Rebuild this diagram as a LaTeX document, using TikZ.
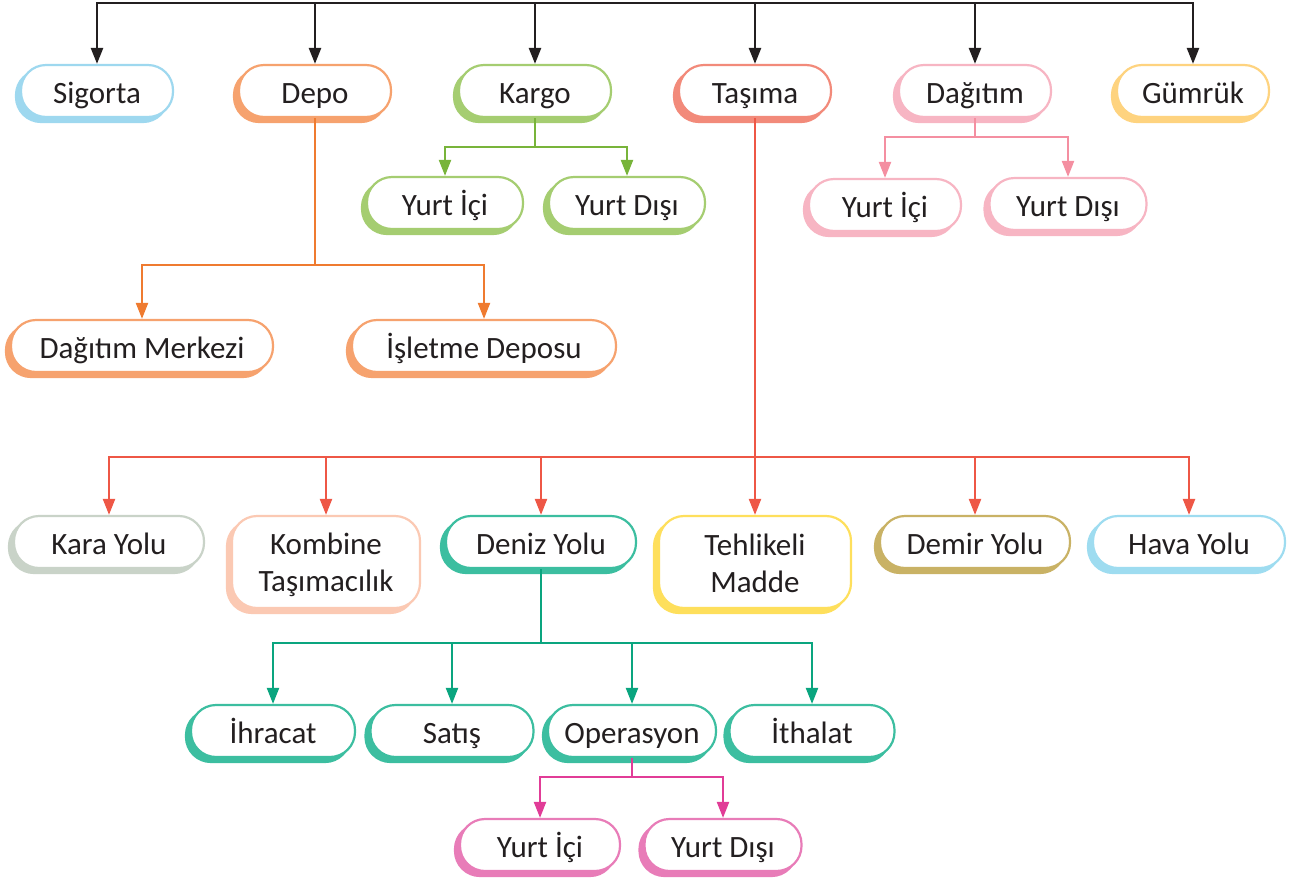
\documentclass[tikz,border=0pt]{standalone}
\usepackage{fontspec}
\setmainfont{Carlito}
\usetikzlibrary{arrows.meta,shadows}
\definecolor{txt}{HTML}{231F20}
\definecolor{blk}{HTML}{231F20}
% connector colours
\definecolor{lorange}{HTML}{EF7B30}
\definecolor{lgreen}{HTML}{78B43A}
\definecolor{lpink}{HTML}{F48FA1}
\definecolor{lred}{HTML}{EE5746}
\definecolor{lteal}{HTML}{0AA57F}
\definecolor{lmag}{HTML}{E13C97}
% box colours
\definecolor{cblue}{HTML}{9ED8EF}
\definecolor{corange}{HTML}{F6A26E}
\definecolor{cgreen}{HTML}{A5CD71}
\definecolor{csalmon}{HTML}{F28A7A}
\definecolor{cpink}{HTML}{F7B5C3}
\definecolor{cyellow}{HTML}{FED37F}
\definecolor{cgray}{HTML}{C9D3C8}
\definecolor{cpeach}{HTML}{FBC9B3}
\definecolor{cteal}{HTML}{3CBEA0}
\definecolor{cyell2}{HTML}{FEDF5C}
\definecolor{ckhaki}{HTML}{C9B265}
\definecolor{cblue2}{HTML}{9EDCF0}
\definecolor{cmag}{HTML}{E87CB8}
\newcommand{\topstrut}{\rule{0pt}{28pt}}
\newcommand{\botstrut}{\rule[-4pt]{0pt}{4pt}}
\begin{document}
\begin{tikzpicture}[x=1pt,y=-1pt,
  box/.style={draw=#1, fill=white, line width=2.2pt, rounded corners=25pt,
     general shadow={fill=#1, draw=#1, shadow xshift=-5pt, shadow yshift=-5pt},
     font=\fontsize{31}{37}\selectfont, text=txt, align=center,
     minimum height=52pt, inner sep=0pt},
  one/.style={text height=28pt, text depth=4pt},
  w/.style={minimum width=#1},
  tall/.style={minimum height=92pt},
  wire/.style={line width=2.2pt, draw=#1},
  conn/.style={line width=2.2pt, draw=#1, -{Triangle[length=16pt,width=12pt]}},
]
\useasboundingbox (0,0) rectangle (1292,879);

% ---- Row 1
\node[box=cblue,   w=152pt, one] (sig)   at (97,91)   {Sigorta};
\node[box=corange, w=152pt, one] (depo)  at (315,91)  {Depo};
\node[box=cgreen,  w=152pt, one] (kargo) at (535,91)  {Kargo};
\node[box=csalmon, w=152pt, one] (tas)   at (755,91)  {Taşıma};
\node[box=cpink,   w=152pt, one] (dag)   at (975,91)  {Dağıtım};
\node[box=cyellow, w=152pt, one] (gum)   at (1193,91) {Gümrük};

% ---- Kargo children
\node[box=cgreen, w=156pt, one] (ki) at (445,203) {Yurt İçi};
\node[box=cgreen, w=156pt, one] (kd) at (627,203) {Yurt Dışı};

% ---- Dağıtım children
\node[box=cpink, w=152pt, one] (gi) at (885,205) {Yurt İçi};
\node[box=cpink, w=157pt, one] (gd) at (1068,204) {Yurt Dışı};

% ---- Depo children
\node[box=corange, w=262pt, one] (dm) at (142,346) {Dağıtım Merkezi};
\node[box=corange, w=264pt, one] (id) at (484,346) {İşletme Deposu};

% ---- Taşıma children
\node[box=cgray,  w=190pt, one] (kara)  at (109,542)   {Kara Yolu};
\node[box=cpeach, w=188pt, tall] (komb) at (326,562) {\topstrut Kombine\\Taşımacılık\botstrut};
\node[box=cteal,  w=190pt, one] (deniz) at (541,542)   {Deniz Yolu};
\node[box=cyell2, w=192pt, tall] (teh) at (755,562) {\topstrut Tehlikeli\\Madde\botstrut};
\node[box=ckhaki, w=190pt, one] (demir) at (975,542)   {Demir Yolu};
\node[box=cblue2, w=192pt, one] (hava)  at (1189,542)  {Hava Yolu};

% ---- Deniz Yolu children
\node[box=cteal, w=164pt, one] (ihr) at (273,731) {İhracat};
\node[box=cteal, w=163pt, one] (sat) at (452,731) {Satış};
\node[box=cteal, w=168pt, one] (ope) at (632,731) {Operasyon};
\node[box=cteal, w=165pt, one] (ith) at (812,731) {İthalat};

% ---- Operasyon children
\node[box=cmag, w=160pt, one] (oi) at (540,845) {Yurt İçi};
\node[box=cmag, w=157pt, one] (od) at (723,845) {Yurt Dışı};

% ---- bus coordinates
\coordinate (top)  at (315,3);
\coordinate (topr) at (975,3);
\coordinate (kbus) at (535,147);
\coordinate (gbus) at (975,137);
\coordinate (dbus) at (315,265);
\coordinate (tbus) at (755,457);
\coordinate (nbus) at (541,643);
\coordinate (obus) at (632,777);

% ---- top level connectors
\draw[wire=blk, line width=2.5pt] (top) -- (topr);
\draw[conn=blk, line width=2.5pt] (top) -| (sig.north);
\draw[conn=blk, line width=2.5pt] (top) -- (depo.north);
\draw[conn=blk, line width=2.5pt] (kargo.north |- top) -- (kargo.north);
\draw[conn=blk, line width=2.5pt] (tas.north |- top) -- (tas.north);
\draw[conn=blk, line width=2.5pt] (topr) -- (dag.north);
\draw[conn=blk, line width=2.5pt] (topr) -| (gum.north);

% ---- Kargo
\draw[wire=lgreen] (kargo.south) -- (kbus);
\draw[conn=lgreen] (kbus) -| (ki.north);
\draw[conn=lgreen] (kbus) -| (kd.north);

% ---- Dağıtım
\draw[wire=lpink] (dag.south) -- (gbus);
\draw[conn=lpink] (gbus) -| (gi.north);
\draw[conn=lpink] (gbus) -| (gd.north);

% ---- Depo
\draw[wire=lorange] (depo.south) -- (dbus);
\draw[conn=lorange] (dbus) -| (dm.north);
\draw[conn=lorange] (dbus) -| (id.north);

% ---- Taşıma
\draw[wire=lred] (tas.south) -- (tbus);
\draw[conn=lred] (tbus) -| (kara.north);
\draw[conn=lred] (tbus) -| (komb.north);
\draw[conn=lred] (tbus) -| (deniz.north);
\draw[conn=lred] (tbus) -- (teh.north);
\draw[conn=lred] (tbus) -| (demir.north);
\draw[conn=lred] (tbus) -| (hava.north);

% ---- Deniz Yolu
\draw[wire=lteal] (deniz.south) -- (nbus);
\draw[conn=lteal] (nbus) -| (ihr.north);
\draw[conn=lteal] (nbus) -| (sat.north);
\draw[conn=lteal] (nbus) -| (ope.north);
\draw[conn=lteal] (nbus) -| (ith.north);

% ---- Operasyon
\draw[wire=lmag] (ope.south) -- (obus);
\draw[conn=lmag] (obus) -| (oi.north);
\draw[conn=lmag] (obus) -| (od.north);
\end{tikzpicture}
\end{document}
